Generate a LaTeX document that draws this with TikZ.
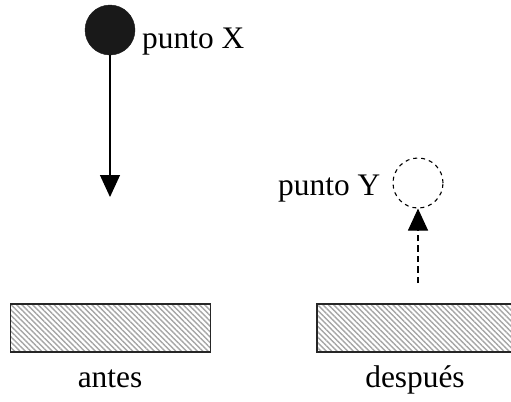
\documentclass[tikz,border=0pt]{standalone}
\usepackage{fontspec}
\setmainfont{Liberation Serif}
\usetikzlibrary{arrows.meta,patterns.meta}
\begin{document}
\begin{tikzpicture}[x=1bp,y=-1bp,
  lbl/.style={font=\fontsize{31.5}{36}\selectfont, inner sep=0pt},
  ball/.style={circle, fill=black!90, draw=black!90, minimum size=50bp, inner sep=0pt},
  ghost/.style={circle, draw=black, dash pattern=on 4bp off 4bp, line width=1.1bp, minimum size=50bp, inner sep=0pt},
  plate/.style={draw=black!85, line width=1.6bp, minimum width=200bp, minimum height=48bp, inner sep=0pt,
    pattern={Lines[angle=-45, distance=3.8bp, line width=1.4bp]}, pattern color=black!35},
  arr/.style={line width=1.1bp, -{Triangle[width=20bp,length=22bp]}}
]
\useasboundingbox (0,0) rectangle (511,401);
\node[ball] (X) at (110,30) {};
\node[lbl, anchor=base west] (lx) at (142,48) {punto X};
\coordinate (xtip) at (110,197);
\draw[arr] (X.south) -- (xtip);

\node[ghost] (Y) at (418,183) {};
\node[lbl, anchor=base west] (ly) at (278,195) {punto Y};
\coordinate (ybot) at (418,283);
\draw[arr, dash pattern=on 6.5bp off 4bp] (ybot) -- (Y.south);

\node[plate] (p1) at (110.5,328) {};
\node[plate] (p2) at (417,328) {};
\node[lbl, anchor=base] (a) at (110,387) {antes};
\node[lbl, anchor=base] (d) at (415,387) {después};
\end{tikzpicture}
\end{document}
